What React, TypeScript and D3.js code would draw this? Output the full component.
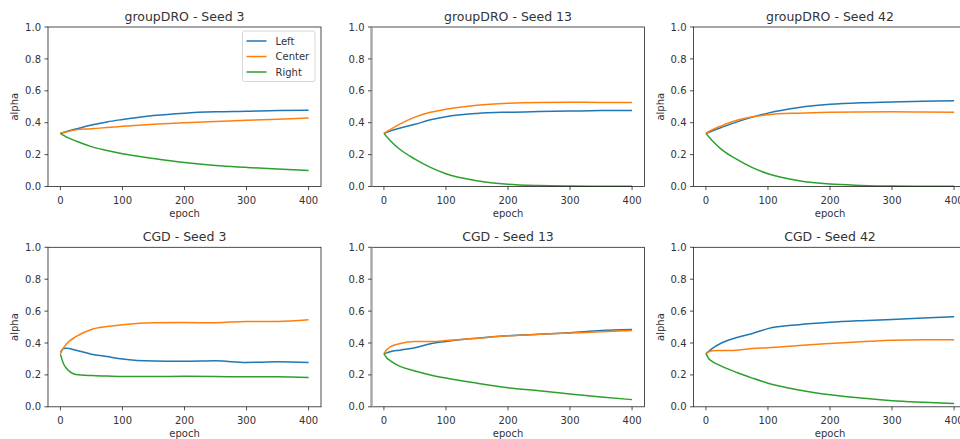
import React, { useRef, useEffect } from "react";
import * as d3 from "d3";

const EPOCHS = [0, 5, 10, 25, 50, 75, 100, 150, 200, 250, 300, 350, 400];
const SERIES_NAMES = ["Left", "Center", "Right"];
const COLORS = ["#1f77b4", "#ff7f0e", "#2ca02c"];
const X_TICKS = [0, 100, 200, 300, 400];
const Y_TICKS = [0, 0.2, 0.4, 0.6, 0.8, 1.0];

const TITLES = [
  "groupDRO - Seed 3",
  "groupDRO - Seed 13",
  "groupDRO - Seed 42",
  "CGD - Seed 3",
  "CGD - Seed 13",
  "CGD - Seed 42",
];

// groupDRO - Seed 3
const dro3Left = [0.333, 0.338, 0.345, 0.36, 0.385, 0.405, 0.42, 0.445, 0.46, 0.468, 0.472, 0.477, 0.478];
const dro3Center = [0.333, 0.338, 0.343, 0.355, 0.362, 0.37, 0.377, 0.39, 0.4, 0.407, 0.415, 0.422, 0.43];
const dro3Right = [0.333, 0.32, 0.31, 0.285, 0.25, 0.226, 0.205, 0.175, 0.15, 0.132, 0.12, 0.109, 0.1];

// groupDRO - Seed 13
const dro13Left = [0.333, 0.34, 0.347, 0.365, 0.39, 0.418, 0.438, 0.458, 0.466, 0.47, 0.473, 0.476, 0.477];
const dro13Center = [0.333, 0.345, 0.357, 0.39, 0.435, 0.465, 0.485, 0.51, 0.522, 0.527, 0.528, 0.527, 0.527];
const dro13Right = [0.333, 0.31, 0.289, 0.235, 0.172, 0.12, 0.08, 0.036, 0.014, 0.006, 0.003, 0.002, 0.001];

// groupDRO - Seed 42
const dro42Left = [0.333, 0.34, 0.348, 0.37, 0.405, 0.435, 0.46, 0.495, 0.515, 0.525, 0.53, 0.535, 0.538];
const dro42Center = [0.333, 0.345, 0.355, 0.38, 0.415, 0.437, 0.45, 0.46, 0.465, 0.467, 0.468, 0.467, 0.466];
const dro42Right = [0.333, 0.31, 0.289, 0.233, 0.17, 0.118, 0.08, 0.036, 0.015, 0.007, 0.003, 0.002, 0.001];

// CGD - Seed 3
const cgd3Left = [0.34, 0.365, 0.367, 0.355, 0.33, 0.315, 0.3, 0.287, 0.285, 0.288, 0.278, 0.282, 0.278];
const cgd3Center = [0.333, 0.37, 0.395, 0.44, 0.485, 0.503, 0.515, 0.527, 0.528, 0.527, 0.535, 0.535, 0.545];
const cgd3Right = [0.33, 0.27, 0.24, 0.203, 0.196, 0.193, 0.19, 0.19, 0.191, 0.19, 0.188, 0.188, 0.183];

// CGD - Seed 13
const cgd13Left = [0.333, 0.338, 0.345, 0.355, 0.37, 0.395, 0.41, 0.43, 0.445, 0.455, 0.465, 0.478, 0.485];
const cgd13Center = [0.333, 0.36, 0.375, 0.395, 0.41, 0.41, 0.415, 0.43, 0.445, 0.455, 0.463, 0.47, 0.478];
const cgd13Right = [0.333, 0.305, 0.29, 0.255, 0.225, 0.2, 0.18, 0.148, 0.12, 0.1, 0.08, 0.062, 0.045];

// CGD - Seed 42
const cgd42Left = [0.333, 0.35, 0.365, 0.4, 0.435, 0.46, 0.49, 0.515, 0.53, 0.54, 0.548, 0.556, 0.565];
const cgd42Center = [0.333, 0.345, 0.352, 0.353, 0.355, 0.365, 0.37, 0.385, 0.397, 0.408, 0.418, 0.42, 0.42];
const cgd42Right = [0.333, 0.3, 0.285, 0.255, 0.215, 0.18, 0.148, 0.105, 0.075, 0.055, 0.038, 0.028, 0.02];

const PANELS = [
  [dro3Left, dro3Center, dro3Right],
  [dro13Left, dro13Center, dro13Right],
  [dro42Left, dro42Center, dro42Right],
  [cgd3Left, cgd3Center, cgd3Right],
  [cgd13Left, cgd13Center, cgd13Right],
  [cgd42Left, cgd42Center, cgd42Right],
];

export default function App() {
  const svgRef = useRef<SVGSVGElement>(null);

  useEffect(() => {
    const root = d3.select(svgRef.current);
    root.selectAll("*").remove();

    const W = 960;
    const H = 439;
    root.attr("width", W).attr("height", H);
    root.append("rect").attr("width", W).attr("height", H).attr("fill", "white");

    const colLeft = [48, 371.5, 693.5];
    const rowTop = [27, 247.3];
    const pw = 273;
    const ph = 159.5;
    const font = "DejaVu Sans, sans-serif";
    const textColor = "#333";

    PANELS.forEach((series, idx) => {
      const col = idx % 3;
      const row = Math.floor(idx / 3);
      const g = root.append("g")
        .attr("transform", `translate(${colLeft[col]},${rowTop[row]})`);

      const x = d3.scaleLinear().domain([-20, 420]).range([0, pw]);
      const y = d3.scaleLinear().domain([0, 1]).range([ph, 0]);

      const line = d3.line<number>()
        .x((_, i) => x(EPOCHS[i]))
        .y(d => y(d))
        .curve(d3.curveMonotoneX);

      series.forEach((vals, s) => {
        g.append("path")
          .datum(vals)
          .attr("fill", "none")
          .attr("stroke", COLORS[s])
          .attr("stroke-width", 1.5)
          .attr("d", line);
      });

      // spines
      g.append("rect")
        .attr("x", 0).attr("y", 0)
        .attr("width", pw).attr("height", ph)
        .attr("fill", "none")
        .attr("stroke", "#222")
        .attr("stroke-width", 0.8);
      if (col === 1) {
        g.append("line")
          .attr("x1", 0).attr("x2", 0)
          .attr("y1", 0).attr("y2", ph)
          .attr("stroke", "#aaa")
          .attr("stroke-width", 2.5);
      }

      // x ticks
      X_TICKS.forEach(t => {
        g.append("line")
          .attr("x1", x(t)).attr("x2", x(t))
          .attr("y1", ph).attr("y2", ph + 3.5)
          .attr("stroke", "#222").attr("stroke-width", 0.8);
        g.append("text")
          .attr("x", x(t)).attr("y", ph + 17.5)
          .attr("text-anchor", "middle")
          .attr("font-family", font).attr("font-size", 10)
          .attr("fill", textColor)
          .text(t);
      });

      // y ticks
      Y_TICKS.forEach(t => {
        g.append("line")
          .attr("x1", -3.5).attr("x2", 0)
          .attr("y1", y(t)).attr("y2", y(t))
          .attr("stroke", "#222").attr("stroke-width", 0.8);
        g.append("text")
          .attr("x", -7).attr("y", y(t) + 3.6)
          .attr("text-anchor", "end")
          .attr("font-family", font).attr("font-size", 10)
          .attr("fill", textColor)
          .text(t.toFixed(1));
      });

      g.append("text")
        .attr("x", pw / 2).attr("y", -6)
        .attr("text-anchor", "middle")
        .attr("font-family", font).attr("font-size", 12.5)
        .attr("fill", textColor)
        .text(TITLES[idx]);

      g.append("text")
        .attr("x", x(200)).attr("y", ph + 30.5)
        .attr("text-anchor", "middle")
        .attr("font-family", font).attr("font-size", 10)
        .attr("fill", textColor)
        .text("epoch");

      if (col !== 1) {
        g.append("text")
          .attr("transform", `translate(-30,${ph / 2}) rotate(-90)`)
          .attr("text-anchor", "middle")
          .attr("font-family", font).attr("font-size", 10)
          .attr("fill", textColor)
          .text("alpha");
      }

      if (idx === 0) {
        const lg = g.append("g").attr("transform", `translate(${pw - 78.5},4)`);
        lg.append("rect")
          .attr("width", 72.5).attr("height", 50.5)
          .attr("rx", 2)
          .attr("fill", "white")
          .attr("fill-opacity", 0.8)
          .attr("stroke", "#ccc")
          .attr("stroke-width", 0.8);
        SERIES_NAMES.forEach((name, i) => {
          const ly = 10 + i * 15.5;
          lg.append("line")
            .attr("x1", 4).attr("x2", 24)
            .attr("y1", ly).attr("y2", ly)
            .attr("stroke", COLORS[i]).attr("stroke-width", 1.5);
          lg.append("text")
            .attr("x", 33).attr("y", ly + 3.6)
            .attr("font-family", font).attr("font-size", 10)
            .attr("fill", textColor)
            .text(name);
        });
      }
    });
  }, []);

  return (
    <div style={{ position: "absolute", left: 0, top: 0 }}>
      <svg ref={svgRef} style={{ display: "block" }}></svg>
    </div>
  );
}
